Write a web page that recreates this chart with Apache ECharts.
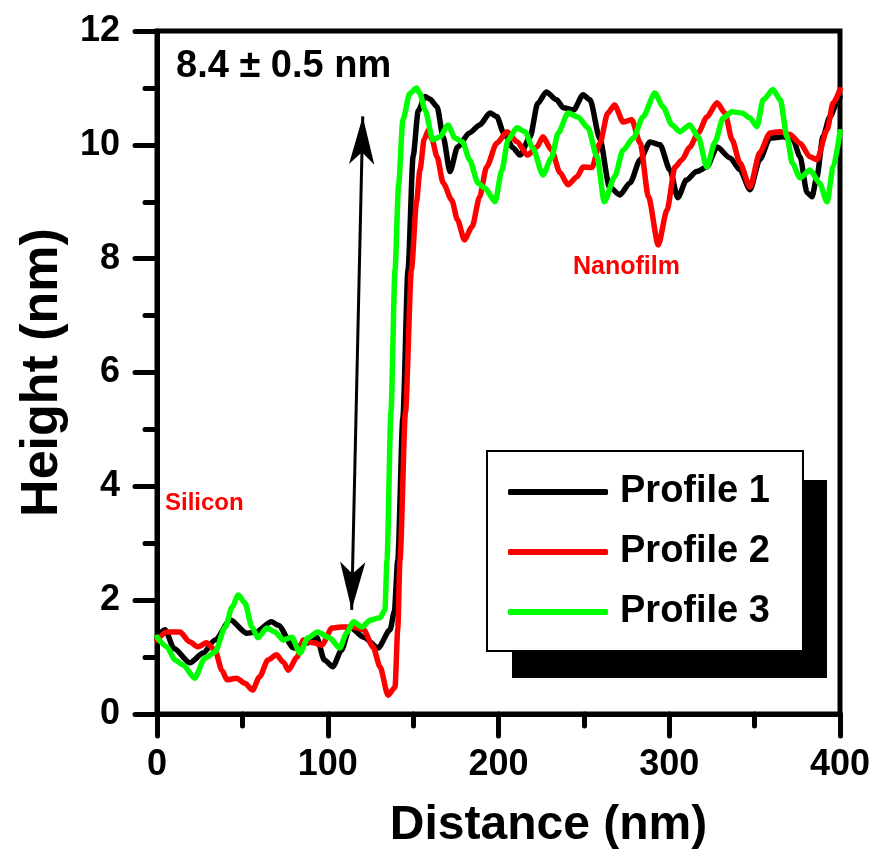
<!DOCTYPE html>
<html>
<head>
<meta charset="utf-8">
<script src="https://cdn.jsdelivr.net/npm/echarts@6/dist/echarts.min.js"></script>
<style>
html,body{margin:0;padding:0;background:#fff;}
#chart{width:890px;height:860px;}
</style>
</head>
<body>
<div id="chart"></div>
<script>
// ---- data (Distance in nm, Height in nm) ----
var seriesNames = ['Profile 1', 'Profile 2', 'Profile 3'];
var seriesColors = ['#000000', '#ff0000', '#00ff00'];

var p1Dist = [0,4.7,10,19.3,27,34,43,52.5,58,67,71,80,88,93.5,98,103,108,113,121,129.5,136.5,139,141,144,147,150,153,157,160,164,167.6,171.6,176,183,189,195,199,203,208.5,212.6,218.5,223,228,234,238,244,249.5,253.6,259.4,265,271,277,283,288.7,294.6,300.4,305,310,316,322,328,335.6,341.4,347.3,353,359,366.6,372.5,376.6,380.7,383.6,386.5,390,394,399,400];
var p1Height = [1.35,1.48,1.15,0.9,1.07,1.3,1.65,1.42,1.44,1.62,1.56,1.16,1.25,1.35,0.95,0.83,1.12,1.53,1.35,1.16,1.48,1.8,2.7,5.2,7.8,9.8,10.6,10.85,10.8,10.67,10.14,9.53,9.96,10.21,10.35,10.56,10.5,10.21,9.95,9.82,10.14,10.73,10.93,10.79,10.65,10.61,10.88,10.79,10.1,9.26,9.12,9.33,9.74,10.05,10.0,9.56,9.07,9.38,9.53,9.61,9.96,9.77,9.56,9.21,9.74,10.12,10.14,10.09,9.79,9.16,9.09,9.44,10.14,10.49,10.79,10.85];

var p2Dist = [0,5.8,13.5,19,24,29,34,38,41,46.6,51.5,56,60,65,70,74,77,82,85.7,91.5,96.5,102.5,108,115,121,126.5,130.6,135.3,139.4,141,142.3,145.5,149,152,154,156.5,159,161,164,167.6,172.6,176,180,184.5,189,193,199,205,211,217,222.5,226,231,236,240.7,246,249.5,254.7,259.4,264,268,273,278,283,287.8,293.6,298.7,303.4,307.5,312,317,322,328,332.6,336.8,341.4,347.3,353,359,365,370.7,376.6,382.4,386.5,392.4,396,400];
var p2Height = [1.3,1.44,1.44,1.27,1.18,1.25,1.12,0.77,0.6,0.63,0.54,0.42,0.65,0.95,1.04,0.91,0.77,1.0,1.3,1.25,1.21,1.51,1.53,1.53,1.48,1.18,0.83,0.33,0.47,1.5,2.7,5.3,7.8,9.0,9.56,10.1,10.26,10.1,9.79,9.33,9.03,8.68,8.33,8.56,9.09,9.61,10.03,10.23,10.05,9.82,9.96,10.14,9.91,9.51,9.3,9.44,9.61,9.6,10.03,10.56,10.7,10.4,10.44,10.03,9.09,8.24,8.86,9.61,9.74,9.96,10.21,10.49,10.74,10.56,10.09,9.68,9.26,9.86,10.21,10.23,10.18,10.03,9.79,9.74,10.26,10.74,10.97];

var p3Dist = [0,5.8,10.5,15.3,22,28,34,40,44,47.6,51.5,55.6,59,64.4,69,74,79,83.7,88.4,94,101,107,111,115,120,125,130.6,133.5,134.7,137,139.4,141.5,144,148,152,154,157,161.6,165.7,170.4,174.5,179,183,188,192,198,202,205.6,210.8,215.5,220,226,231,235,240.7,246.5,252.4,257.7,262,268,273,279,284.6,291.6,296.3,301.6,306.3,312,317,322,326.8,331.5,336.8,342.6,347.3,351.4,355,360.8,365,369,372,376.6,382.4,388,392.4,396,400];
var p3Height = [1.35,1.18,0.95,0.86,0.63,0.98,1.09,1.53,1.88,2.09,1.95,1.53,1.34,1.51,1.44,1.3,1.35,1.07,1.34,1.44,1.34,1.16,1.42,1.62,1.53,1.65,1.69,1.83,2.7,5.3,7.8,9.3,10.44,10.9,11.0,10.9,10.61,10.09,10.14,10.35,10.12,10.05,9.74,9.33,9.24,9.0,9.56,10.09,10.3,10.23,9.95,9.47,9.77,10.21,10.56,10.49,10.3,9.79,9.0,9.44,9.91,10.12,10.49,10.91,10.67,10.35,10.23,10.35,10.14,9.61,10.05,10.47,10.58,10.56,10.47,10.32,10.79,10.97,10.79,10.14,9.68,9.42,9.56,9.33,9.0,9.61,10.23];

// axis ranges and ticks
var xMin = 0, xMax = 400, xStep = 100;
var yMin = 0, yMax = 12, yStep = 2;
var xAxisTitle = 'Distance (nm)';
var yAxisTitle = 'Height (nm)';

// annotations
var stepLabel = '8.4 \u00b1 0.5 nm';
var siliconLabel = 'Silicon';
var filmLabel = 'Nanofilm';
var arrowTop = [120.5, 10.5];
var arrowBottom = [114, 1.83];

function zip(xs, ys) { return xs.map(function (x, i) { return [x, ys[i]]; }); }

var FONT = '"Liberation Sans", Arial, Helvetica, sans-serif';
var chart = echarts.init(document.getElementById('chart'), null, {renderer: 'canvas'});

var allDist = [p1Dist, p2Dist, p3Dist];
var allHeight = [p1Height, p2Height, p3Height];

var series = seriesNames.map(function (name, i) {
  return {
    name: name,
    type: 'line',
    data: zip(allDist[i], allHeight[i]),
    showSymbol: false,
    symbol: 'none',
    smooth: 0.25,
    smoothMonotone: 'x',
    lineStyle: {color: seriesColors[i], width: 5.5, join: 'round', cap: 'round'},
    itemStyle: {color: seriesColors[i]},
    z: 2 + i
  };
});

series[0].markLine = {
  silent: true,
  symbol: ['arrow', 'arrow'],
  symbolSize: [19, 48],
  label: {show: false},
  lineStyle: {color: '#000', width: 3, type: 'solid'},
  data: [[{coord: arrowTop}, {coord: arrowBottom}]],
  z: 10
};

var axisCommon = {
  axisLine: {show: true, onZero: false, lineStyle: {color: '#000', width: 5, cap: 'round'}},
  axisTick: {show: true, inside: false, length: 22, lineStyle: {color: '#000', width: 5, cap: 'round'}},
  minorTick: {show: true, splitNumber: 2, length: 12, lineStyle: {color: '#000', width: 5, cap: 'round'}},
  splitLine: {show: false},
  minorSplitLine: {show: false}
};

var option = {
  backgroundColor: '#ffffff',
  animation: false,
  grid: {left: 157, right: 50, top: 31, bottom: 146, show: true, borderColor: '#000', borderWidth: 5, backgroundColor: 'transparent'},
  xAxis: Object.assign({
    type: 'value', min: xMin, max: xMax, interval: xStep,
    name: xAxisTitle, nameLocation: 'middle', nameGap: 88,
    nameTextStyle: {fontFamily: FONT, fontWeight: 'bold', fontSize: 48, color: '#000', padding: [0, 0, 0, 100]},
    axisLabel: {margin: 33, fontFamily: FONT, fontWeight: 'bold', fontSize: 36, color: '#000'}
  }, axisCommon),
  yAxis: Object.assign({
    type: 'value', min: yMin, max: yMax, interval: yStep,
    name: yAxisTitle, nameLocation: 'middle', nameGap: 78,
    nameTextStyle: {fontFamily: FONT, fontWeight: 'bold', fontSize: 52, color: '#000'},
    axisLabel: {margin: 37, fontFamily: FONT, fontWeight: 'bold', fontSize: 36, color: '#000'}
  }, axisCommon),
  legend: {
    show: true,
    orient: 'vertical',
    left: 508, top: 472,
    padding: 0,
    itemGap: 20,
    itemWidth: 100, itemHeight: 6,
    icon: 'roundRect',
    data: seriesNames,
    textStyle: {fontFamily: FONT, fontWeight: 'bold', fontSize: 38, color: '#000', lineHeight: 40, padding: [0, 0, 0, 7]},
    z: 20
  },
  graphic: [
    {type: 'rect', z: 5, shape: {x: 512, y: 480, width: 315, height: 198}, style: {fill: '#000'}},
    {type: 'rect', z: 6, shape: {x: 487, y: 451, width: 316, height: 200}, style: {fill: '#fff', stroke: '#000', lineWidth: 2}},
    {type: 'text', z: 7, x: 176, y: 67, style: {text: stepLabel, fill: '#000', font: 'bold 38px ' + FONT, textAlign: 'left', textVerticalAlign: 'middle'}},
    {type: 'text', z: 7, x: 165, y: 503, style: {text: siliconLabel, fill: '#ff0000', font: 'bold 24px ' + FONT, textAlign: 'left', textVerticalAlign: 'middle'}},
    {type: 'text', z: 7, x: 573, y: 267, style: {text: filmLabel, fill: '#ff0000', font: 'bold 25px ' + FONT, textAlign: 'left', textVerticalAlign: 'middle'}}
  ],
  series: series
};

chart.setOption(option);
</script>
</body>
</html>
